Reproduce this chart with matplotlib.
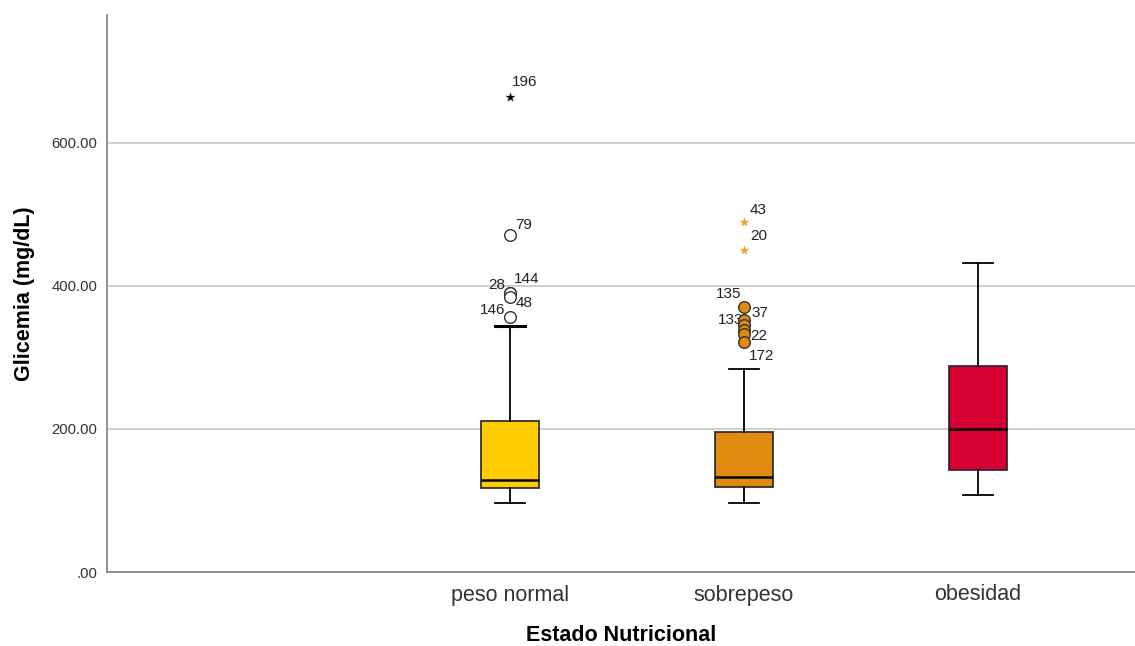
import matplotlib
matplotlib.use('Agg')
import matplotlib.pyplot as plt

plt.rcParams['font.family'] = ['Liberation Sans', 'DejaVu Sans']

# categorias (la primera posicion queda vacia, como en SPSS)
categorias = ['peso normal', 'sobrepeso', 'obesidad']
colores = ['#FFCC00', '#E08A10', '#D60032']

# resumen de cada caja: bigote inf, Q1, mediana, Q3, bigote sup
bigote_inf = [97, 97, 107]
q1 = [118, 119, 142]
mediana = [128, 133, 200]
q3 = [211, 196, 288]
bigote_sup = [344, 284, 432]

# valores atipicos (circulos) y extremos (estrellas)
atip_cat = [0, 0, 0, 0, 0, 1, 1, 1, 1, 1, 1]
atip_val = [471, 390, 390, 384, 356, 370, 352, 345, 338, 333, 321]
atip_id = ['79', '28', '144', '48', '146', '135', '37', '133', '', '22', '172']
ext_cat = [0, 1, 1]
ext_val = [665, 489, 450]
ext_id = ['196', '43', '20']

# desplazamiento de las etiquetas (pixeles)
atip_off = [(5, 10, 'left'), (-5, 8, 'right'), (4, 14, 'left'), (6, -6, 'left'),
            (-5, 7, 'right'), (-3, 13, 'right'), (7, 7, 'left'), (-1, 5, 'right'),
            (0, 0, 'left'), (6, -2, 'left'), (5, -14, 'left')]
ext_off = [(2, 15, 'left'), (6, 12, 'left'), (6, 14, 'left')]

fig = plt.figure(figsize=(11.35, 6.46), dpi=100)
ax = fig.add_axes([107 / 1135, 74 / 646, 1 - 107 / 1135, (572 - 15) / 646])

pos = [1, 2, 3]
stats = []
for i, nom in enumerate(categorias):
    stats.append({'label': nom, 'whislo': bigote_inf[i], 'q1': q1[i], 'med': mediana[i],
                  'q3': q3[i], 'whishi': bigote_sup[i], 'fliers': []})

bp = ax.bxp(stats, positions=pos, widths=0.25, patch_artist=True, showfliers=False,
            boxprops=dict(edgecolor='#222222', linewidth=1.2),
            medianprops=dict(color='black', linewidth=1.8),
            whiskerprops=dict(color='black', linewidth=1.3),
            capprops=dict(color='black', linewidth=1.3), capwidths=0.125, zorder=3)
for caja, c in zip(bp['boxes'], colores):
    caja.set_facecolor(c)
# el primer grupo tiene el bigote superior mas grueso
bp['caps'][1].set_linewidth(2.2)

for k in range(len(atip_val)):
    c = atip_cat[k]
    cara = 'white' if c == 0 else colores[c]
    ax.scatter(pos[c], atip_val[k], s=70, marker='o', facecolor=cara,
               edgecolor='#333333', linewidth=1.0, zorder=4)
    dx, dy, ha = atip_off[k]
    if atip_id[k]:
        ax.annotate(atip_id[k], (pos[c], atip_val[k]), xytext=(dx, dy),
                    textcoords='offset pixels', ha=ha, va='center', fontsize=11,
                    color='#222222')

for k in range(len(ext_val)):
    c = ext_cat[k]
    col = 'black' if c == 0 else '#F0A030'
    ax.scatter(pos[c], ext_val[k], s=55, marker='*', color=col, linewidth=0, zorder=4)
    dx, dy, ha = ext_off[k]
    ax.annotate(ext_id[k], (pos[c], ext_val[k]), xytext=(dx, dy),
                textcoords='offset pixels', ha=ha, va='center', fontsize=11,
                color='#222222')

ax.set_xlim(1 - 403 / 234, 3 + 157 / 234)
ax.set_ylim(0, 779)
ax.set_yticks([0, 200, 400, 600])
ax.set_yticklabels(['.00', '200.00', '400.00', '600.00'], fontsize=10.7, color='#333333')
ax.set_xticks(pos)
ax.set_xticklabels(categorias, fontsize=15.5, color='#333333')
ax.yaxis.grid(True, color='#CCCCCC', linewidth=1.3)
ax.set_axisbelow(True)
ax.tick_params(axis='x', length=0, pad=9)
ax.tick_params(axis='y', length=0, pad=7)
for lado in ['top', 'right']:
    ax.spines[lado].set_visible(False)
for lado in ['left', 'bottom']:
    ax.spines[lado].set_color('#888888')
    ax.spines[lado].set_linewidth(1.3)

ax.set_xlabel('Estado Nutricional', fontsize=15.5, fontweight='bold', labelpad=14)
ax.set_ylabel('Glicemia (mg/dL)', fontsize=15.5, fontweight='bold', labelpad=12)

fig.savefig('out.png', dpi=100)
